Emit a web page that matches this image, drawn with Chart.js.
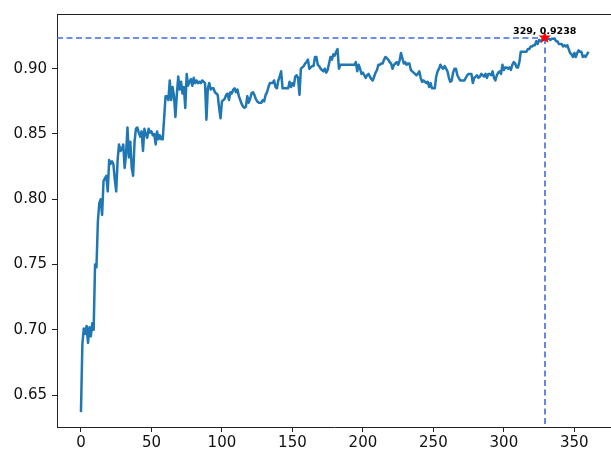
<!DOCTYPE html>
<html>
<head>
<meta charset="utf-8">
<script src="https://cdn.jsdelivr.net/npm/chart.js@4"></script>
<style>
  html, body { margin: 0; padding: 0; background: #fff; overflow: hidden; }
  #wrap { width: 611px; height: 455px; }
</style>
</head>
<body>
<div id="wrap"><canvas id="myChart" width="611" height="455"></canvas></div>
<script>
// accuracy per epoch
var accValues = [
  0.637, 0.689, 0.701, 0.697, 0.703, 0.690, 0.702, 0.695, 0.705, 0.700,
  0.750, 0.748, 0.783, 0.797, 0.800, 0.788, 0.814, 0.816, 0.818, 0.806,
  0.830, 0.827, 0.829, 0.827, 0.815, 0.806, 0.830, 0.842, 0.837, 0.838,
  0.842, 0.824, 0.835, 0.855, 0.832, 0.844, 0.824, 0.818, 0.844, 0.854,
  0.855, 0.851, 0.848, 0.852, 0.837, 0.854, 0.850, 0.847, 0.854, 0.851,
  0.852, 0.849, 0.850, 0.842, 0.852, 0.846, 0.849, 0.846, 0.846, 0.862,
  0.879, 0.879, 0.876, 0.891, 0.876, 0.886, 0.879, 0.863, 0.880, 0.894,
  0.884, 0.890, 0.881, 0.886, 0.870, 0.896, 0.887, 0.890, 0.892, 0.887,
  0.893, 0.889, 0.891, 0.889, 0.890, 0.889, 0.891, 0.890, 0.889, 0.861,
  0.885, 0.889, 0.884, 0.885, 0.885, 0.882, 0.881, 0.880, 0.870, 0.862,
  0.875, 0.876, 0.877, 0.880, 0.881, 0.876, 0.882, 0.881, 0.884, 0.885,
  0.882, 0.884, 0.879, 0.876, 0.873, 0.871, 0.870, 0.871, 0.879, 0.874,
  0.877, 0.881, 0.882, 0.880, 0.877, 0.875, 0.874, 0.874, 0.874, 0.876,
  0.875, 0.880, 0.882, 0.886, 0.889, 0.889, 0.889, 0.891, 0.886, 0.885,
  0.891, 0.894, 0.898, 0.885, 0.885, 0.885, 0.885, 0.885, 0.890, 0.886,
  0.889, 0.887, 0.894, 0.895, 0.893, 0.880, 0.900, 0.901, 0.902, 0.904,
  0.905, 0.907, 0.900, 0.901, 0.902, 0.902, 0.909, 0.909, 0.903, 0.902,
  0.900, 0.899, 0.898, 0.900, 0.897, 0.899, 0.904, 0.909, 0.907, 0.911,
  0.910, 0.913, 0.915, 0.900, 0.903, 0.903, 0.903, 0.903, 0.903, 0.903,
  0.903, 0.903, 0.903, 0.903, 0.903, 0.905, 0.898, 0.903, 0.900, 0.896,
  0.897, 0.895, 0.893, 0.895, 0.896, 0.894, 0.892, 0.891, 0.894, 0.897,
  0.899, 0.903, 0.903, 0.904, 0.904, 0.907, 0.909, 0.908, 0.907, 0.905,
  0.904, 0.900, 0.903, 0.904, 0.905, 0.903, 0.906, 0.912, 0.908, 0.904,
  0.905, 0.903, 0.904, 0.904, 0.899, 0.898, 0.897, 0.896, 0.895, 0.896,
  0.898, 0.893, 0.890, 0.891, 0.890, 0.889, 0.890, 0.886, 0.889, 0.885,
  0.885, 0.885, 0.894, 0.898, 0.900, 0.903, 0.901, 0.900, 0.902, 0.900,
  0.898, 0.893, 0.890, 0.891, 0.897, 0.900, 0.900, 0.895, 0.893, 0.891,
  0.891, 0.891, 0.891, 0.893, 0.895, 0.896, 0.896, 0.896, 0.889, 0.893,
  0.894, 0.895, 0.893, 0.894, 0.896, 0.895, 0.894, 0.896, 0.893, 0.896,
  0.896, 0.895, 0.898, 0.893, 0.891, 0.895, 0.897, 0.898, 0.896, 0.903,
  0.899, 0.901, 0.901, 0.900, 0.901, 0.899, 0.903, 0.905, 0.904, 0.901,
  0.901, 0.905, 0.913, 0.913, 0.913, 0.913, 0.913, 0.915, 0.915, 0.917,
  0.917, 0.918, 0.918, 0.921, 0.919, 0.922, 0.921, 0.922, 0.923, 0.9238,
  0.922, 0.923, 0.923, 0.922, 0.923, 0.923, 0.9232, 0.921, 0.921, 0.919,
  0.919, 0.919, 0.917, 0.918, 0.917, 0.918, 0.915, 0.912, 0.911, 0.909,
  0.912, 0.909, 0.912, 0.914, 0.913, 0.913, 0.909, 0.910, 0.909, 0.911,
  0.913
];
var epochs = accValues.map(function (v, i) { return i; });

var xTicks = [0, 50, 100, 150, 200, 250, 300, 350];
var yTicks = [0.65, 0.70, 0.75, 0.80, 0.85, 0.90];

// best epoch
var bestIdx = 0;
for (var i = 1; i < accValues.length; i++) {
  if (accValues[i] > accValues[bestIdx]) bestIdx = i;
}
var bestX = epochs[bestIdx];
var bestY = accValues[bestIdx];

var pts = epochs.map(function (x, i) { return { x: x, y: accValues[i] }; });

function drawStar(ctx, cx, cy, outer, inner) {
  ctx.beginPath();
  for (var k = 0; k < 10; k++) {
    var r = k % 2 === 0 ? outer : inner;
    var a = -Math.PI / 2 + k * Math.PI / 5;
    var px = cx + r * Math.cos(a), py = cy + r * Math.sin(a);
    if (k === 0) ctx.moveTo(px, py); else ctx.lineTo(px, py);
  }
  ctx.closePath();
  ctx.fill();
}

var bestMarker = {
  id: "bestMarker",
  beforeDatasetsDraw: function (chart) {
    var ctx = chart.ctx, ca = chart.chartArea;
    var sx = chart.scales.x, sy = chart.scales.y;
    var px = Math.round(sx.getPixelForValue(bestX));
    var py = Math.round(sy.getPixelForValue(bestY));
    ctx.save();
    // top spine
    ctx.strokeStyle = "#222";
    ctx.lineWidth = 1;
    ctx.beginPath();
    ctx.moveTo(ca.left, Math.round(ca.top) + 0.5);
    ctx.lineTo(ca.right, Math.round(ca.top) + 0.5);
    ctx.stroke();
    // dashed guide lines
    ctx.strokeStyle = "#4169e1";
    ctx.lineWidth = 1.6;
    ctx.setLineDash([6, 3.5]);
    ctx.beginPath();
    ctx.moveTo(ca.left, py);
    ctx.lineTo(px, py);
    ctx.stroke();
    ctx.beginPath();
    ctx.moveTo(px, py);
    ctx.lineTo(px, ca.bottom);
    ctx.stroke();
    ctx.restore();
  },
  afterDatasetsDraw: function (chart) {
    var ctx = chart.ctx;
    var px = chart.scales.x.getPixelForValue(bestX);
    var py = chart.scales.y.getPixelForValue(bestY);
    ctx.save();
    ctx.fillStyle = "red";
    drawStar(ctx, px, py, 6.5, 2.7);
    ctx.fillStyle = "#000";
    ctx.font = "bold 9.5px 'DejaVu Sans'";
    ctx.textAlign = "center";
    ctx.textBaseline = "bottom";
    ctx.fillText(bestX + ", " + bestY.toFixed(4), px, py - 1);
    ctx.restore();
  }
};

new Chart("myChart", {
  type: "line",
  data: {
    datasets: [{
      data: pts,
      borderColor: "#1f77b4",
      borderWidth: 2.5,
      borderJoinStyle: "round",
      pointRadius: 0,
      tension: 0,
      fill: false
    }]
  },
  options: {
    responsive: false,
    animation: false,
    layout: { padding: { top: 11, right: 0, left: 0, bottom: 0 } },
    plugins: { legend: { display: false }, tooltip: { enabled: false } },
    scales: {
      x: {
        type: "linear",
        min: -17,
        max: 376,
        afterBuildTicks: function (s) { s.ticks = xTicks.map(function (v) { return { value: v }; }); },
        afterFit: function (s) { s.height = 28; },
        grid: { drawOnChartArea: false, drawTicks: true, tickLength: 5, tickColor: "#222", tickWidth: 1 },
        border: { display: true, color: "#222", width: 1 },
        ticks: {
          color: "#111",
          padding: 2,
          maxRotation: 0,
          autoSkip: false,
          font: { family: "DejaVu Sans", size: 15 },
          callback: function (v) { return String(v); }
        }
      },
      y: {
        type: "linear",
        min: 0.6256,
        max: 0.9419,
        afterBuildTicks: function (s) { s.ticks = yTicks.map(function (v) { return { value: v }; }); },
        afterFit: function (s) { s.width = 57; },
        grid: { drawOnChartArea: false, drawTicks: true, tickLength: 5, tickColor: "#222", tickWidth: 1 },
        border: { display: true, color: "#222", width: 1 },
        ticks: {
          color: "#111",
          padding: 5,
          autoSkip: false,
          font: { family: "DejaVu Sans", size: 15 },
          callback: function (v) { return v.toFixed(2); }
        }
      }
    }
  },
  plugins: [bestMarker]
});
</script>
</body>
</html>
